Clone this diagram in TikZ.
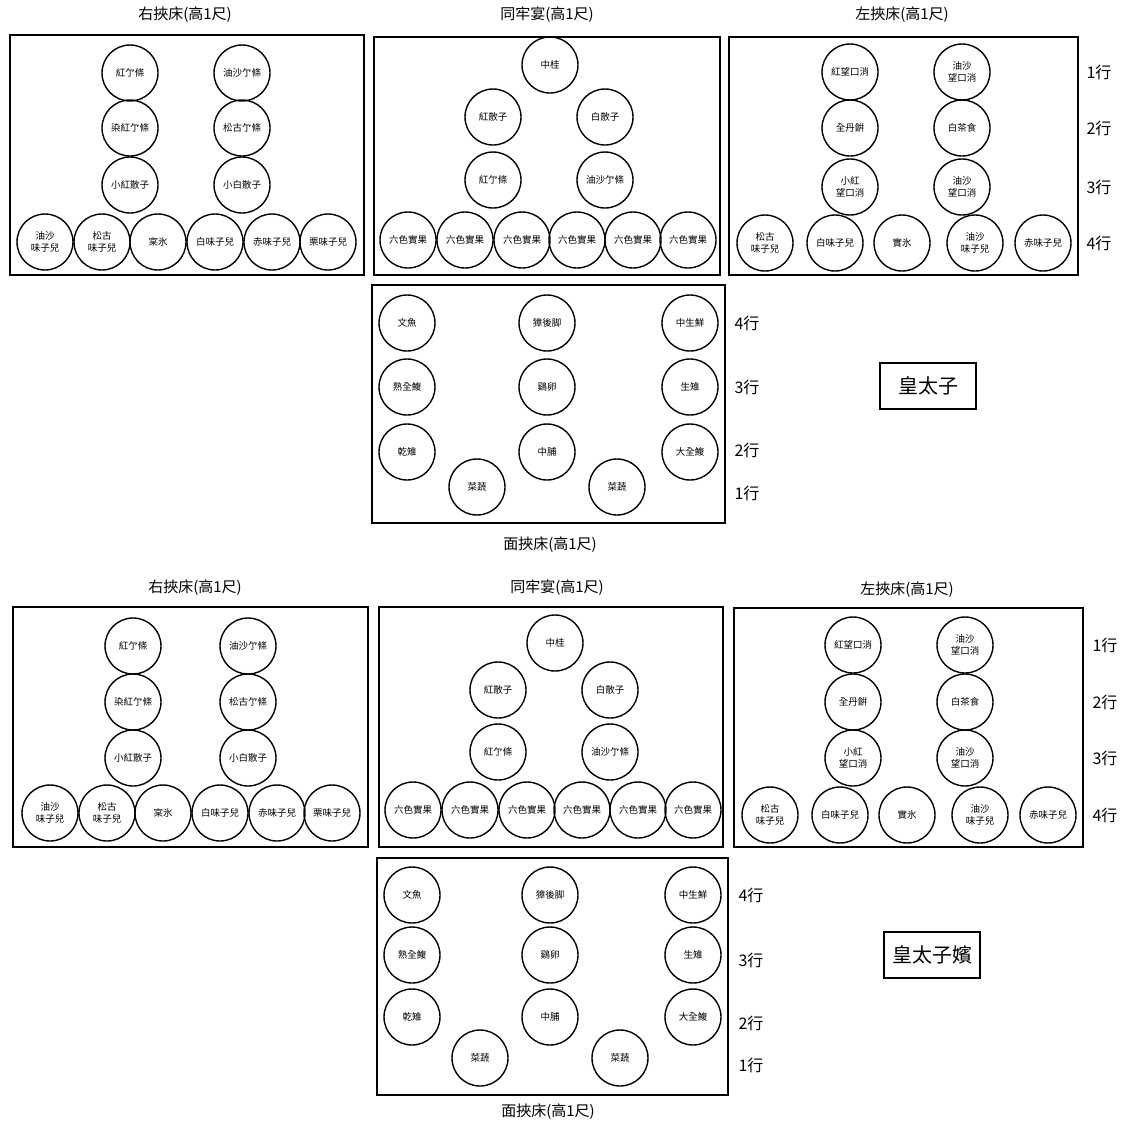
\documentclass[tikz,border=0pt]{standalone}
\usepackage{fontspec}
\newfontfamily\cjk{Noto Sans CJK TC}
\begin{document}
\begin{tikzpicture}[x=1pt,y=-1pt,
  dish/.style={circle, draw, line width=1.4pt, minimum size=56pt, inner sep=0pt, align=center, font=\cjk\fontsize{9.5}{11.5}\selectfont},
  tray/.style={draw, line width=1.4pt},
  ttl/.style={font=\cjk\fontsize{15}{17}\selectfont},
  rowlbl/.style={font=\cjk\fontsize{16}{18}\selectfont},
  who/.style={draw, line width=1.4pt, minimum width=96pt, minimum height=46pt, inner sep=0pt, font=\cjk\fontsize{20}{22}\selectfont}]
\useasboundingbox (0,0) rectangle (1128,1128);
\fill[white] (0,0) rectangle (1128,1128);

% ===================== TOP SECTION =====================
\node[ttl] (ta-t) at (185,15) {右挾床(高1尺)};
\node[ttl] (tb-t) at (547,15) {同牢宴(高1尺)};
\node[ttl] (tc-t) at (902,15) {左挾床(高1尺)};
\draw[tray] (10,35) rectangle (364,275);
\draw[tray] (374,37) rectangle (720,275);
\draw[tray] (729,37) rectangle (1078,275);

% right side tray
\node[dish] (ta1) at (130,73) {紅亇條};
\node[dish] (ta2) at (130,128) {染紅亇條};
\node[dish] (ta3) at (130,185) {小紅散子};
\node[dish] (ta4) at (242,73) {油沙亇條};
\node[dish] (ta5) at (242,128) {松古亇條};
\node[dish] (ta6) at (242,185) {小白散子};
\node[dish] (ta7) at (45,242) {油沙\\味子兒};
\node[dish] (ta8) at (102,242) {松古\\味子兒};
\node[dish] (ta9) at (158,242) {宲氷};
\node[dish] (ta10) at (215,242) {白味子兒};
\node[dish] (ta11) at (272,242) {赤味子兒};
\node[dish] (ta12) at (328,242) {栗味子兒};

% banquet
\node[dish] (tb1) at (550,65) {中桂};
\node[dish] (tb2) at (493,117) {紅散子};
\node[dish] (tb3) at (605,117) {白散子};
\node[dish] (tb4) at (493,180) {紅亇條};
\node[dish] (tb5) at (605,180) {油沙亇條};
\node[dish] (tb6) at (408,240) {六色實果};
\node[dish] (tb7) at (465,240) {六色實果};
\node[dish] (tb8) at (522,240) {六色實果};
\node[dish] (tb9) at (577,240) {六色實果};
\node[dish] (tb10) at (633,240) {六色實果};
\node[dish] (tb11) at (688,240) {六色實果};

% left side tray
\node[dish] (tc1) at (850,72) {紅望口消};
\node[dish] (tc2) at (962,72) {油沙\\望口消};
\node[dish] (tc3) at (850,128) {全丹餠};
\node[dish] (tc4) at (962,128) {白茶食};
\node[dish] (tc5) at (850,187) {小紅\\望口消};
\node[dish] (tc6) at (962,187) {油沙\\望口消};
\node[dish] (tc7) at (765,243) {松古\\味子兒};
\node[dish] (tc8) at (835,243) {白味子兒};
\node[dish] (tc9) at (902,243) {實氷};
\node[dish] (tc10) at (975,243) {油沙\\味子兒};
\node[dish] (tc11) at (1043,243) {赤味子兒};
\node[rowlbl] (tc-r1) at (1099,72) {1行};
\node[rowlbl] (tc-r2) at (1099,128) {2行};
\node[rowlbl] (tc-r3) at (1099,187) {3行};
\node[rowlbl] (tc-r4) at (1099,243) {4行};

% face tray
\draw[tray] (372,285) rectangle (725,523);
\node[dish] (td1) at (407,323) {文魚};
\node[dish] (td2) at (547,323) {獐後脚};
\node[dish] (td3) at (690,323) {中生鮮};
\node[dish] (td4) at (407,387) {熟全鰒};
\node[dish] (td5) at (547,387) {鷄卵};
\node[dish] (td6) at (690,387) {生雉};
\node[dish] (td7) at (407,452) {乾雉};
\node[dish] (td8) at (547,452) {中脯};
\node[dish] (td9) at (690,452) {大全鰒};
\node[dish] (td10) at (477,487) {菜蔬};
\node[dish] (td11) at (617,487) {菜蔬};
\node[rowlbl] (td-r4) at (747,323) {4行};
\node[rowlbl] (td-r3) at (747,387) {3行};
\node[rowlbl] (td-r2) at (747,450) {2行};
\node[rowlbl] (td-r1) at (747,493) {1行};
\node[ttl] (td-t) at (550,545) {面挾床(高1尺)};
\node[who] (tw) at (928,386) {皇太子};

% ===================== BOTTOM SECTION =====================
\node[ttl] (ba-t) at (195,588) {右挾床(高1尺)};
\node[ttl] (bb-t) at (557,588) {同牢宴(高1尺)};
\node[ttl] (bc-t) at (907,590) {左挾床(高1尺)};
\draw[tray] (13,607) rectangle (368,847);
\draw[tray] (379,607) rectangle (723,847);
\draw[tray] (734,608) rectangle (1083,847);

\node[dish] (ba1) at (133,646) {紅亇條};
\node[dish] (ba2) at (133,702) {染紅亇條};
\node[dish] (ba3) at (133,758) {小紅散子};
\node[dish] (ba4) at (248,646) {油沙亇條};
\node[dish] (ba5) at (248,702) {松古亇條};
\node[dish] (ba6) at (248,758) {小白散子};
\node[dish] (ba7) at (50,813) {油沙\\味子兒};
\node[dish] (ba8) at (107,813) {松古\\味子兒};
\node[dish] (ba9) at (163,813) {宲氷};
\node[dish] (ba10) at (220,813) {白味子兒};
\node[dish] (ba11) at (277,813) {赤味子兒};
\node[dish] (ba12) at (332,813) {栗味子兒};

\node[dish] (bb1) at (555,643) {中桂};
\node[dish] (bb2) at (498,690) {紅散子};
\node[dish] (bb3) at (610,690) {白散子};
\node[dish] (bb4) at (498,752) {紅亇條};
\node[dish] (bb5) at (610,752) {油沙亇條};
\node[dish] (bb6) at (413,810) {六色實果};
\node[dish] (bb7) at (470,810) {六色實果};
\node[dish] (bb8) at (527,810) {六色實果};
\node[dish] (bb9) at (582,810) {六色實果};
\node[dish] (bb10) at (638,810) {六色實果};
\node[dish] (bb11) at (693,810) {六色實果};

\node[dish] (bc1) at (853,645) {紅望口消};
\node[dish] (bc2) at (965,645) {油沙\\望口消};
\node[dish] (bc3) at (853,702) {全丹餠};
\node[dish] (bc4) at (965,702) {白茶食};
\node[dish] (bc5) at (853,758) {小紅\\望口消};
\node[dish] (bc6) at (965,758) {油沙\\望口消};
\node[dish] (bc7) at (770,815) {松古\\味子兒};
\node[dish] (bc8) at (840,815) {白味子兒};
\node[dish] (bc9) at (907,815) {實氷};
\node[dish] (bc10) at (980,815) {油沙\\味子兒};
\node[dish] (bc11) at (1048,815) {赤味子兒};
\node[rowlbl] (bc-r1) at (1105,645) {1行};
\node[rowlbl] (bc-r2) at (1105,702) {2行};
\node[rowlbl] (bc-r3) at (1105,758) {3行};
\node[rowlbl] (bc-r4) at (1105,815) {4行};

\draw[tray] (377,858) rectangle (728,1095);
\node[dish] (bd1) at (412,895) {文魚};
\node[dish] (bd2) at (550,895) {獐後脚};
\node[dish] (bd3) at (693,895) {中生鮮};
\node[dish] (bd4) at (412,955) {熟全鰒};
\node[dish] (bd5) at (550,955) {鷄卵};
\node[dish] (bd6) at (693,955) {生雉};
\node[dish] (bd7) at (412,1017) {乾雉};
\node[dish] (bd8) at (550,1017) {中脯};
\node[dish] (bd9) at (693,1017) {大全鰒};
\node[dish] (bd10) at (480,1058) {菜蔬};
\node[dish] (bd11) at (620,1058) {菜蔬};
\node[rowlbl] (bd-r4) at (751,895) {4行};
\node[rowlbl] (bd-r3) at (751,960) {3行};
\node[rowlbl] (bd-r2) at (751,1023) {2行};
\node[rowlbl] (bd-r1) at (751,1065) {1行};
\node[ttl] (bd-t) at (548,1112) {面挾床(高1尺)};
\node[who] (bw) at (932,955) {皇太子嬪};
\end{tikzpicture}
\end{document}
